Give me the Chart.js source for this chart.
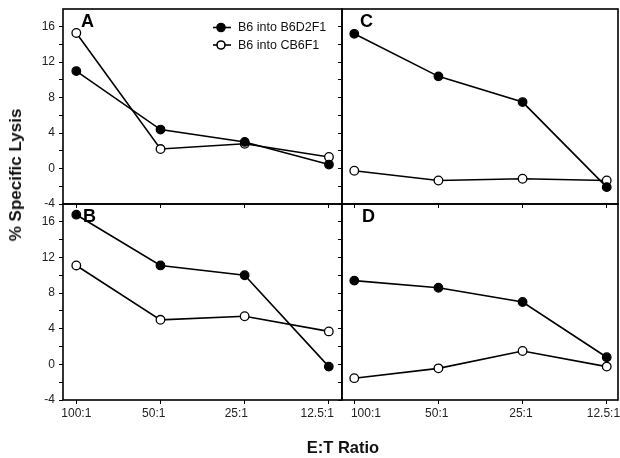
<!DOCTYPE html>
<html>
<head>
<meta charset="utf-8">
<script src="https://cdn.jsdelivr.net/npm/chart.js@4"></script>
<style>
  body { margin: 0; background: #fff; }
  #wrap { position: relative; width: 620px; height: 458px; background: #fff; overflow: hidden; font-family: "Liberation Sans", Arial, sans-serif; }
  canvas { position: absolute; }
  .ytitle { position: absolute; left: 16px; top: 175px; transform: translate(-50%, -50%) rotate(-90deg); font-weight: bold; font-size: 17px; white-space: nowrap; color: #111; }
  .xtitle { position: absolute; left: 343px; top: 447px; transform: translate(-50%, -50%); font-weight: bold; font-size: 16.5px; white-space: nowrap; color: #111; }
</style>
</head>
<body>
<div id="wrap">
  <canvas id="cA"></canvas>
  <canvas id="cB"></canvas>
  <canvas id="cC"></canvas>
  <canvas id="cD"></canvas>
  <div class="ytitle">% Specific Lysis</div>
  <div class="xtitle">E:T Ratio</div>
</div>
<script>
// E:T ratios (categories)
const ratios = ["100:1", "50:1", "25:1", "12.5:1"];
const seriesNames = ["B6 into B6D2F1", "B6 into CB6F1"];
const yTicks = [-4, 0, 4, 8, 12, 16];

// values, % specific lysis
const aB6D2F1 = [11.0, 4.4, 3.0, 0.45];
const aCB6F1 = [15.3, 2.2, 2.8, 1.3];
const bB6D2F1 = [16.8, 11.1, 10.0, -0.25];
const bCB6F1 = [11.1, 5.0, 5.4, 3.7];
const cB6D2F1 = [15.2, 10.4, 7.5, -2.1];
const cCB6F1 = [-0.25, -1.35, -1.15, -1.35];
const dB6D2F1 = [9.4, 8.6, 7.0, 0.8];
const dCB6F1 = [-1.55, -0.45, 1.5, -0.25];

const FONT = "'Liberation Sans', Arial, sans-serif";

// the original tick labels sit a little off their ticks; nudge with spaces
function nudge(label, px) {
  const n = Math.round(Math.abs(px) / 1.67);
  const sp = " ".repeat(n);
  return px < 0 ? label + sp : sp + label;
}

// box around each panel + panel letter + optional legend
const panelDeco = {
  id: "panelDeco",
  afterDraw(chart, args, opts) {
    const { ctx, chartArea: a } = chart;
    ctx.save();
    ctx.strokeStyle = "#000";
    ctx.lineWidth = 1.6;
    ctx.strokeRect(a.left, a.top, a.right - a.left, a.bottom - a.top);
    ctx.fillStyle = "#000";
    ctx.font = "bold 18px " + FONT;
    ctx.textBaseline = "middle";
    ctx.fillText(opts.letter, a.left + opts.lx, a.top + 13);
    if (opts.legend) {
      ctx.font = "12.5px " + FONT;
      chart.data.datasets.forEach((ds, i) => {
        const y = a.top + 18.5 + i * 17.5;
        const x = a.left + 150;
        ctx.lineWidth = 1.6;
        ctx.beginPath();
        ctx.moveTo(x, y); ctx.lineTo(x + 18, y);
        ctx.stroke();
        ctx.beginPath();
        ctx.arc(x + 8, y, 4, 0, Math.PI * 2);
        ctx.fillStyle = ds.pointBackgroundColor;
        ctx.fill();
        ctx.stroke();
        ctx.fillStyle = "#111";
        ctx.fillText(ds.label, x + 25, y + 0.5);
      });
    }
    ctx.restore();
  }
};

function makePanel(id, box, o) {
  const cv = document.getElementById(id);
  cv.style.left = box.cx + "px";
  cv.style.top = box.cy + "px";
  cv.width = box.w; cv.height = box.h;
  cv.style.width = box.w + "px"; cv.style.height = box.h + "px";
  const yw = box.x0 - box.cx;
  const xh = box.cy + box.h - box.y1;
  const shifts = o.shifts || [0, 0, 0, 0];
  new Chart(cv.getContext("2d"), {
    type: "line",
    data: {
      datasets: [
        { label: seriesNames[0], data: o.filled.map((v, i) => ({ x: i, y: v })),
          borderColor: "#000", borderWidth: 1.6, pointRadius: 4.3,
          pointBackgroundColor: "#000", pointBorderColor: "#000", pointBorderWidth: 1.2 },
        { label: seriesNames[1], data: o.open.map((v, i) => ({ x: i, y: v })),
          borderColor: "#000", borderWidth: 1.6, pointRadius: 4.3,
          pointBackgroundColor: "#fff", pointBorderColor: "#000", pointBorderWidth: 1.3 }
      ]
    },
    options: {
      responsive: false,
      animation: false,
      clip: false,
      layout: { padding: { top: box.y0 - box.cy, right: box.cx + box.w - box.x1, left: 0, bottom: 0 } },
      plugins: {
        legend: { display: false },
        tooltip: { enabled: false },
        panelDeco: { letter: o.letter, lx: o.lx, legend: o.legend }
      },
      scales: {
        x: {
          type: "linear", min: o.xmin, max: o.xmax,
          afterBuildTicks: s => { s.ticks = ratios.map((r, i) => ({ value: i })); },
          afterFit: s => { s.height = xh; },
          border: { display: false },
          grid: { drawOnChartArea: false, drawTicks: true, tickLength: 4, color: "#000", lineWidth: 1 },
          ticks: { display: o.xLabels, callback: v => nudge(ratios[v], shifts[v]), font: { size: 12, family: FONT }, color: "#222", padding: 2, maxRotation: 0, autoSkip: false }
        },
        y: {
          min: -4, max: 18,
          afterBuildTicks: s => { s.ticks = [-4, -2, 0, 2, 4, 6, 8, 10, 12, 14, 16].map(v => ({ value: v })); },
          afterFit: s => { s.width = yw; },
          border: { display: false },
          grid: { drawOnChartArea: false, drawTicks: true, tickLength: 4, color: "#000", lineWidth: 1 },
          ticks: { callback: v => (o.yLabels && yTicks.includes(v)) ? String(v) : "", font: { size: 12, family: FONT }, color: "#222", padding: 4 }
        }
      }
    },
    plugins: [panelDeco]
  });
}

makePanel("cA", { cx: 0, cy: -20, w: 360, h: 244, x0: 63, x1: 342, y0: 9, y1: 204 },
  { filled: aB6D2F1, open: aCB6F1, letter: "A", lx: 18, legend: true, xLabels: false, yLabels: true, xmin: -0.158, xmax: 3.155 });
makePanel("cB", { cx: 0, cy: 184, w: 360, h: 274, x0: 63, x1: 342, y0: 204, y1: 400 },
  { filled: bB6D2F1, open: bCB6F1, letter: "B", lx: 20, legend: false, xLabels: true, yLabels: true, xmin: -0.158, xmax: 3.155, shifts: [0, -6, -8, -12] });
makePanel("cC", { cx: 300, cy: -20, w: 360, h: 244, x0: 342, x1: 618, y0: 9, y1: 204 },
  { filled: cB6D2F1, open: cCB6F1, letter: "C", lx: 18, legend: false, xLabels: false, yLabels: false, xmin: -0.146, xmax: 3.134 });
makePanel("cD", { cx: 300, cy: 184, w: 360, h: 274, x0: 342, x1: 618, y0: 204, y1: 400 },
  { filled: dB6D2F1, open: dCB6F1, letter: "D", lx: 20, legend: false, xLabels: true, yLabels: false, xmin: -0.146, xmax: 3.134, shifts: [12, -1, -1, -4] });
</script>
</body>
</html>
